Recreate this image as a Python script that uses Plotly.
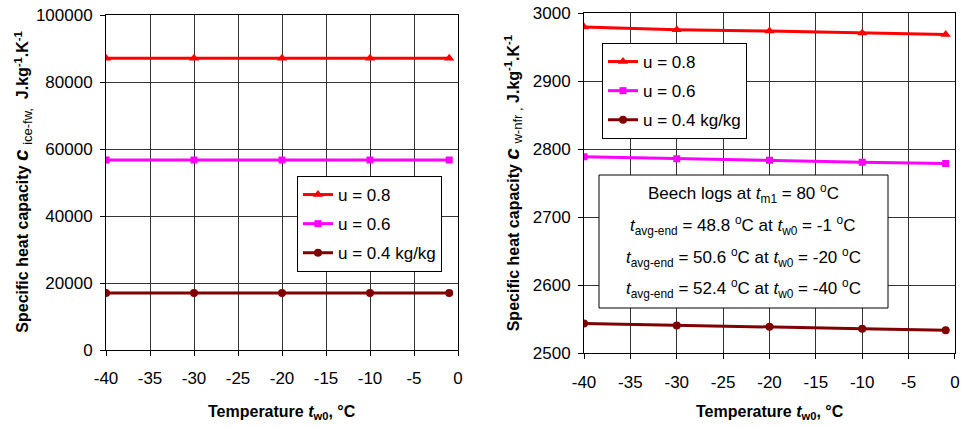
import plotly.graph_objects as go

# ---- data ----
temps = [-40, -30, -20, -10, -1]
series_names = ["u = 0.8", "u = 0.6", "u = 0.4 kg/kg"]

# left chart: c_ice-fw
c_ice_u08 = [87200, 87200, 87200, 87200, 87200]
c_ice_u06 = [56800, 56800, 56800, 56800, 56800]
c_ice_u04 = [17000, 17000, 17000, 17000, 17000]

# right chart: c_w-nfr
c_w_u08 = [2980, 2976, 2974, 2971, 2969]
c_w_u06 = [2789, 2786, 2784, 2781, 2779]
c_w_u04 = [2544, 2541, 2539, 2536, 2534]

x_ticks = [-40, -35, -30, -25, -20, -15, -10, -5, 0]
x_ticklabels = ["-40", "-35", "-30", "-25", "-20", "-15", "-10", "-5", "0"]
left_yticks = [0, 20000, 40000, 60000, 80000, 100000]
left_yticklabels = ["0", "20000", "40000", "60000", "80000", "100000"]
right_yticks = [2500, 2600, 2700, 2800, 2900, 3000]
right_yticklabels = ["2500", "2600", "2700", "2800", "2900", "3000"]

colors = ["#FF0000", "#FF00FF", "#800000"]
symbols = ["triangle-up", "square", "circle"]
msizes = [9, 7, 8]

FONT = "Liberation Sans, Arial, sans-serif"

fig = go.Figure()

left_sets = [c_ice_u08, c_ice_u06, c_ice_u04]
right_sets = [c_w_u08, c_w_u06, c_w_u04]

for i, (name, vals) in enumerate(zip(series_names, left_sets)):
    fig.add_trace(go.Scatter(
        x=temps, y=vals, name=name, mode="lines+markers",
        line=dict(color=colors[i], width=3),
        marker=dict(symbol=symbols[i], size=msizes[i], color=colors[i]),
        xaxis="x", yaxis="y", legend="legend", legendgroup="L%d" % i,
    ))
for i, (name, vals) in enumerate(zip(series_names, right_sets)):
    fig.add_trace(go.Scatter(
        x=temps, y=vals, name=name, mode="lines+markers",
        line=dict(color=colors[i], width=3),
        marker=dict(symbol=symbols[i], size=msizes[i], color=colors[i]),
        xaxis="x2", yaxis="y2", legend="legend2", legendgroup="R%d" % i,
    ))

grid = "#333333"
axis_common = dict(
    showline=True, linecolor="#000000", linewidth=1, mirror=True,
    showgrid=True, gridcolor=grid, gridwidth=1, zeroline=False,
    ticks="outside", ticklen=5, tickcolor="#000000", automargin=False,
    ticklabeloverflow="allow",
    tickfont=dict(family=FONT, size=17, color="#000000"),
)

fig.update_layout(
    width=962, height=428,
    margin=dict(l=0, r=0, t=0, b=0, autoexpand=False),
    paper_bgcolor="white", plot_bgcolor="white",
    font=dict(family=FONT, size=17, color="#000000"),
    xaxis=dict(domain=[0.1102, 0.4761], range=[-40, 0], tickvals=x_ticks,
               ticktext=x_ticklabels, ticklabelstandoff=8, anchor="y", **axis_common),
    yaxis=dict(domain=[0.1822, 0.9643], range=[0, 100000], tickvals=left_yticks,
               ticktext=left_yticklabels, ticklabelstandoff=4, anchor="x", **axis_common),
    xaxis2=dict(domain=[0.6071, 0.9927], range=[-40, 0], tickvals=x_ticks,
                ticktext=x_ticklabels, ticklabelstandoff=8, anchor="y2", **axis_common),
    yaxis2=dict(domain=[0.1745, 0.9689], range=[2500, 3000], tickvals=right_yticks,
                ticktext=right_yticklabels, ticklabelstandoff=4, anchor="x2", **axis_common),
    legend=dict(x=297 / 962, y=1 - 176 / 428, xanchor="left", yanchor="top",
                bgcolor="white", bordercolor="#000000", borderwidth=1,
                font=dict(family=FONT, size=17), itemwidth=30,
                traceorder="grouped", tracegroupgap=4),
    legend2=dict(x=602 / 962, y=1 - 43 / 428, xanchor="left", yanchor="top",
                 bgcolor="white", bordercolor="#000000", borderwidth=1,
                 font=dict(family=FONT, size=17), itemwidth=30,
                 traceorder="grouped", tracegroupgap=4),
    showlegend=True,
)

C = '<span style="font-size:21px"><i>c</i></span>'
annotations = []
# y axis titles
annotations.append(dict(
    text="<b>Specific heat capacity " + C + "</b> <sub><span style=\"font-size:13px\">ice-fw,</span></sub>  <b>J.kg<sup>-1</sup>.K<sup>-1</sup></b>",
    xref="paper", yref="y domain", x=22 / 962, y=0.5, textangle=-90,
    showarrow=False, font=dict(family=FONT, size=16), xanchor="center", yanchor="middle"))
annotations.append(dict(
    text="<b>Specific heat capacity " + C + "</b> <sub><span style=\"font-size:13px\">w-nfr ,</span></sub> <b>J.kg<sup>-1</sup>.K<sup>-1</sup></b>",
    xref="paper", yref="y2 domain", x=512 / 962, y=0.5, textangle=-90,
    showarrow=False, font=dict(family=FONT, size=16), xanchor="center", yanchor="middle"))
# x axis titles
for xr in ["x domain", "x2 domain"]:
    annotations.append(dict(
        text="<b>Temperature <i>t</i><sub>w0</sub>, °C</b>",
        xref=xr, yref="paper", x=0.5, y=1 - 412 / 428,
        showarrow=False, font=dict(family=FONT, size=16), xanchor="center", yanchor="middle"))

# info box on right chart
info_lines = [
    "Beech logs at <i>t</i><sub>m1</sub> = 80 <sup>o</sup>C",
    "<i>t</i><sub>avg-end</sub> = 48.8 <sup>o</sup>C at <i>t</i><sub>w0</sub> = -1 <sup>o</sup>C",
    "<i>t</i><sub>avg-end</sub> = 50.6 <sup>o</sup>C at <i>t</i><sub>w0</sub> = -20 <sup>o</sup>C",
    "<i>t</i><sub>avg-end</sub> = 52.4 <sup>o</sup>C at <i>t</i><sub>w0</sub> = -40 <sup>o</sup>C",
]
line_y = [193, 225, 257, 288]
for txt, yy in zip(info_lines, line_y):
    annotations.append(dict(
        text=txt, xref="paper", yref="paper", x=743 / 962, y=1 - yy / 428,
        showarrow=False, font=dict(family=FONT, size=17), xanchor="center", yanchor="middle"))

fig.update_layout(annotations=annotations)
fig.add_shape(type="rect", xref="paper", yref="paper",
              x0=599 / 962, x1=888 / 962, y0=1 - 308 / 428, y1=1 - 175 / 428,
              line=dict(color="#000000", width=1), fillcolor="white", layer="above")

post = (
    "document.body.style.margin='0px';"
    "document.body.style.overflow='hidden';"
    "var gd=document.getElementById('{plot_id}');"
    "Plotly.newPlot(gd, gd.data, gd.layout, {displayModeBar:false});"
)
fig.write_html("out.html", config={"displayModeBar": False}, post_script=post)
